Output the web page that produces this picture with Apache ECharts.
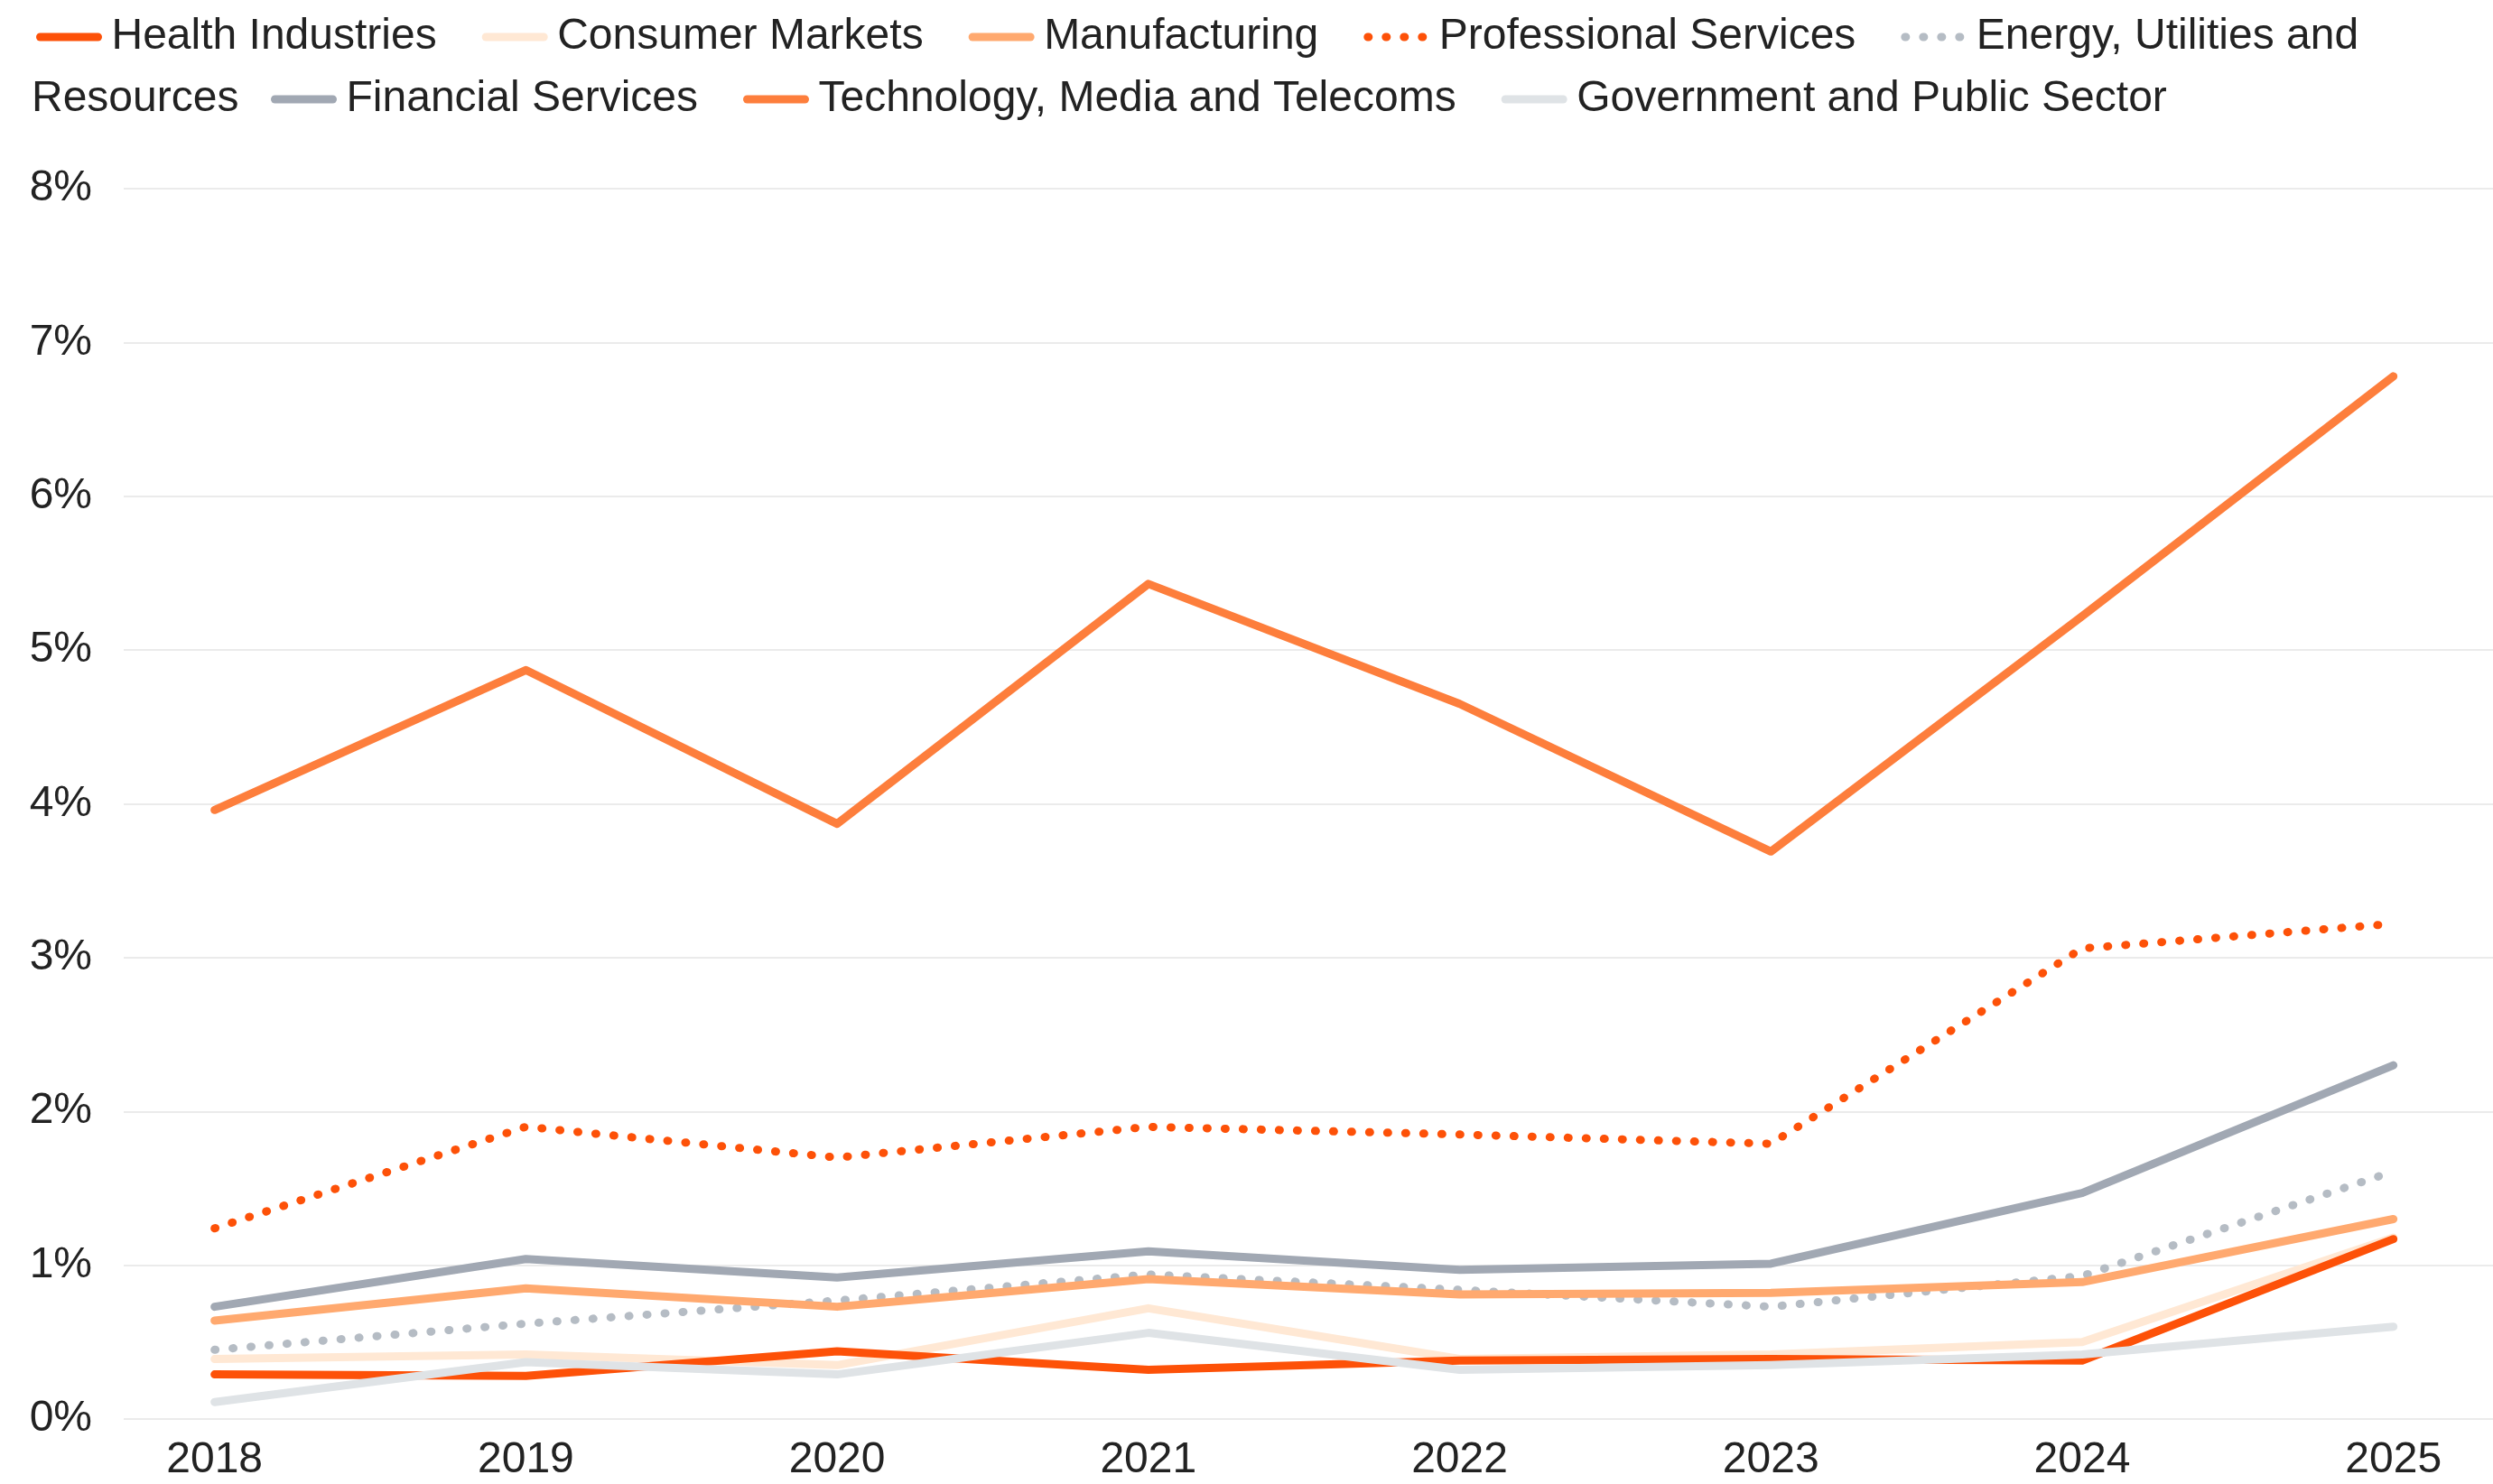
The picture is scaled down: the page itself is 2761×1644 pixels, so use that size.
<!DOCTYPE html>
<html>
<head>
<meta charset="utf-8">
<script src="https://cdn.jsdelivr.net/npm/echarts@6/dist/echarts.min.js"></script>
<style>
  html, body { margin: 0; padding: 0; background: #fff; }
  #chart { width: 2761px; height: 1644px; }
</style>
</head>
<body>
<div id="chart"></div>
<script>
// years on the x axis
var years = [2018, 2019, 2020, 2021, 2022, 2023, 2024, 2025];
var yTicks = [0, 1, 2, 3, 4, 5, 6, 7, 8];

// share (%) per sector
var healthIndustries = [0.29, 0.28, 0.44, 0.32, 0.38, 0.39, 0.38, 1.17];
var consumerMarkets = [0.39, 0.42, 0.35, 0.72, 0.39, 0.42, 0.50, 1.18];
var manufacturing = [0.64, 0.85, 0.73, 0.91, 0.81, 0.82, 0.89, 1.30];
var professionalServices = [1.24, 1.90, 1.70, 1.90, 1.85, 1.79, 3.06, 3.22];
var energyUtilities = [0.45, 0.62, 0.77, 0.94, 0.84, 0.73, 0.93, 1.61];
var financialServices = [0.73, 1.04, 0.92, 1.09, 0.97, 1.01, 1.47, 2.30];
var technologyMedia = [3.96, 4.87, 3.87, 5.43, 4.65, 3.69, 5.22, 6.78];
var governmentPublic = [0.11, 0.37, 0.29, 0.56, 0.32, 0.35, 0.42, 0.60];

var NAME_HEALTH = "Health Industries";
var NAME_CONSUMER = "Consumer Markets";
var NAME_MANUF = "Manufacturing";
var NAME_PROF = "Professional Services";
var NAME_ENERGY = "Energy, Utilities and Resources";
var NAME_FIN = "Financial Services";
var NAME_TECH = "Technology, Media and Telecoms";
var NAME_GOV = "Government and Public Sector";

var textColor = "#222";
var fontFamily = "'Liberation Sans', Arial, sans-serif";
var dots = [1, 19];

function pairs(values) {
  return values.map(function (v, i) { return [years[i], v]; });
}

function makeLine(name, values, color, dotted) {
  return {
    name: name,
    type: "line",
    data: pairs(values),
    symbol: "none",
    animation: false,
    lineStyle: {
      color: color,
      width: 9,
      type: dotted ? dots : "solid",
      cap: "round",
      join: "round"
    },
    itemStyle: { color: color },
    emphasis: { disabled: true }
  };
}

var chart = echarts.init(document.getElementById("chart"));

var legendBase = {
  orient: "horizontal",
  padding: 0,
  itemWidth: 64,
  itemHeight: 20,
  itemGap: 50,
  lineStyle: { width: 9 },
  // hide the little circle in the middle of each legend line
  itemStyle: { opacity: 0 },
  textStyle: {
    color: textColor,
    fontSize: 48,
    fontFamily: fontFamily,
    padding: [0, 0, 0, 10]
  }
};

var option = {
  backgroundColor: "#fff",
  animation: false,
  legend: [
    Object.assign({}, legendBase, {
      left: 40,
      top: 17,
      data: [NAME_HEALTH, NAME_CONSUMER, NAME_MANUF, NAME_PROF, NAME_ENERGY],
      formatter: function (name) {
        // the long name wraps onto the second row
        return name === NAME_ENERGY ? "Energy, Utilities and" : name;
      }
    }),
    Object.assign({}, legendBase, {
      left: 300,
      top: 86,
      data: [NAME_FIN, NAME_TECH, NAME_GOV]
    })
  ],
  graphic: [
    {
      type: "text",
      left: 35,
      top: 86,
      style: {
        text: "Resources",
        fill: textColor,
        font: "48px " + fontFamily
      }
    }
  ],
  grid: {
    left: 137,
    right: 0,
    top: 209,
    bottom: 72
  },
  xAxis: {
    type: "value",
    min: 2017.708,
    max: 2025.32,
    axisLine: { show: false },
    axisTick: { show: false },
    splitLine: { show: false },
    axisLabel: {
      customValues: years,
      formatter: function (v) { return String(v); },
      color: textColor,
      fontSize: 48,
      fontFamily: fontFamily,
      margin: 22
    }
  },
  yAxis: {
    type: "value",
    min: yTicks[0],
    max: yTicks[yTicks.length - 1],
    interval: 1,
    axisLine: { show: false },
    axisTick: { show: false },
    splitLine: {
      show: true,
      lineStyle: { color: "#ebebeb", width: 2 }
    },
    axisLabel: {
      formatter: "{value}%",
      color: textColor,
      fontSize: 48,
      fontFamily: fontFamily,
      margin: 35
    }
  },
  series: [
    makeLine(NAME_ENERGY, energyUtilities, "#b5bcc4", true),
    makeLine(NAME_CONSUMER, consumerMarkets, "#ffe8d4", false),
    makeLine(NAME_HEALTH, healthIndustries, "#fd5108", false),
    makeLine(NAME_GOV, governmentPublic, "#dfe3e6", false),
    makeLine(NAME_MANUF, manufacturing, "#ffa96f", false),
    makeLine(NAME_FIN, financialServices, "#a1a8b3", false),
    makeLine(NAME_PROF, professionalServices, "#fd5108", true),
    makeLine(NAME_TECH, technologyMedia, "#fd7e3c", false)
  ]
};

chart.setOption(option);
</script>
</body>
</html>
